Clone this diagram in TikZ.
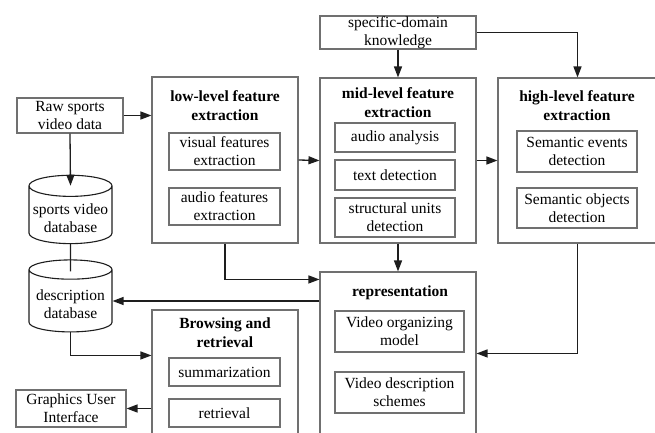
\documentclass[tikz,border=0pt]{standalone}
\usepackage{fontspec}
\setmainfont{Liberation Serif}
\usetikzlibrary{arrows.meta,calc,positioning,shapes.geometric}
\definecolor{boxgray}{RGB}{112,112,112}
\definecolor{linedark}{RGB}{30,30,30}

\begin{document}
\begin{tikzpicture}[x=1pt,y=-1pt,
  font=\fontsize{15.5}{18}\selectfont,
  box/.style={draw=boxgray, line width=1.1pt, inner sep=0pt, align=center},
  title/.style={font=\fontsize{15.5}{19}\selectfont\bfseries, align=center, inner sep=0pt},
  db/.style={cylinder, shape border rotate=90, aspect=0.28, draw=linedark, line width=1.1pt,
    align=center, inner sep=0pt},
  flow/.style={draw=linedark, line width=1.3pt, -{Triangle[length=11pt,width=8pt]}},
  link/.style={draw=linedark, line width=1.3pt}]
  \useasboundingbox (0,0) rectangle (655,432);
  \clip (0,0) rectangle (655,432);

  % outer stages
  \begin{scope}[every node/.style={box}]
    \node[minimum width=146pt, minimum height=166pt] (low) at (225,160) {};
    \node[minimum width=156pt, minimum height=165pt] (mid) at (398,160.5) {};
    \node[minimum width=159pt, minimum height=165pt] (high) at (577.5,160.5) {};
    \node[minimum width=156pt, minimum height=190pt] (rep) at (398,367) {};
    \node[minimum width=146pt, minimum height=150pt] (brow) at (225,385) {};
  \end{scope}

  % titles
  \node[title] (lowtitle) at (225,106) {low-level feature\\extraction};
  \node[title] (midtitle) at (398,103) {mid-level feature\\extraction};
  \node[title] (hightitle) at (577,106) {high-level feature\\extraction};
  \node[title] (reptitle) at (400,293) {representation};
  \node[title] (browtitle) at (225,332.5) {Browsing and\\retrieval};

  % inner boxes
  \begin{scope}[every node/.style={box}]
    \node[minimum width=106pt, minimum height=35pt] (raw) at (70,115.5) {Raw sports\\video data};
    \node[minimum width=156pt, minimum height=33pt] (spec) at (398,32.5) {specific-domain\\knowledge};
    \node[minimum width=111pt, minimum height=37pt] (visual) at (224.5,151.5) {visual features\\extraction};
    \node[minimum width=111pt, minimum height=37pt] (audiof) at (224.5,206.5) {audio features\\extraction};
    \node[minimum width=120pt, minimum height=29pt] (audioa) at (395,137.5) {audio analysis};
    \node[minimum width=120pt, minimum height=30pt] (textd) at (395,175) {text detection};
    \node[minimum width=120pt, minimum height=39pt] (struct) at (395,217.5) {structural units\\detection};
    \node[minimum width=120pt, minimum height=41pt] (semev) at (577,151.5) {Semantic events\\detection};
    \node[minimum width=120pt, minimum height=40pt] (semobj) at (577,208) {Semantic objects\\detection};
    \node[minimum width=129pt, minimum height=41pt] (vom) at (399.5,331.5) {Video organizing\\model};
    \node[minimum width=129pt, minimum height=41pt] (vds) at (399.5,392.5) {Video description\\schemes};
    \node[minimum width=111pt, minimum height=28pt] (summ) at (224.5,372) {summarization};
    \node[minimum width=111pt, minimum height=28pt] (retr) at (224.5,413) {retrieval};
    \node[minimum width=110pt, minimum height=37pt] (gui) at (71,408.5) {Graphics User\\Interface};
  \end{scope}

  % databases
  \node[db, minimum width=83pt, minimum height=66pt] (svdb) at (70.5,215) {\\sports video\\database};
  \node[db, minimum width=83pt, minimum height=72pt] (descdb) at (70.5,301) {\\description\\database};

  % connectors
  \path[flow] (raw.east) -- (raw.east -| low.west);
  \path[flow] (raw.south) -- ($(svdb.north)+(0,11)$);
  \path[link] (svdb.south) -- ($(descdb.north)+(0,12)$);
  \path[flow] (descdb.south) |- ($(brow.north west)+(0,46)$);
  \path[flow] (brow.west |- gui.east) -- (gui.east);
  \path[flow] (low.south) |- ($(rep.north west)+(0,8)$);
  \path[flow] (rep.west |- descdb.east) -- (descdb.east);
  \path[flow] (spec.south) -- (mid.north);
  \path[flow] (spec.east) -| (high.north);
  \path[flow] (low.east) -- (mid.west);
  \path[flow] (mid.east) -- (high.west);
  \path[flow] (mid.south) -- (rep.north);
  \path[flow] (high.south) |- ($(rep.north east)+(0,82)$);
\end{tikzpicture}
\end{document}
